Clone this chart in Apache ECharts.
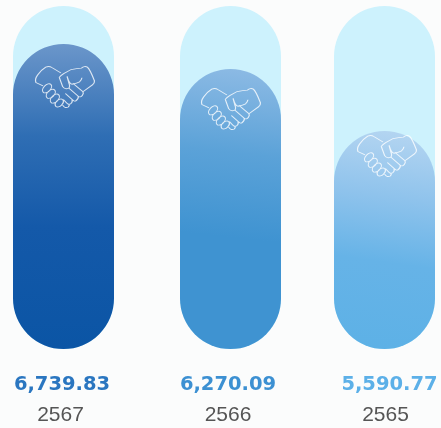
<!DOCTYPE html>
<html>
<head>
<meta charset="utf-8">
<style>html,body{margin:0;padding:0;background:#fbfcfc}#chart{width:441px;height:428px}</style>
<script src="https://cdn.jsdelivr.net/npm/echarts@6/dist/echarts.min.js"></script>
</head>
<body>
<div id="chart"></div>
<script>
// Yearly figures, newest first
const years = ['2567', '2566', '2565'];
const values = [6739.83, 6270.09, 5590.77];
const valueLabels = ['6,739.83', '6,270.09', '5,590.77'];

// Each capsule has its own scale ceiling, so the fill level is set per column
const scaleMax = [7580, 7681, 8797];
const columnLeft = [13, 180, 334];
const columnWidth = 101;
const labelColors = ['#2a76c0', '#3c90d2', '#5cb0e8'];
const fillStops = [
  ['#6b96ca', '#2f6eb4', '#1459a9', '#0b55a5'],
  ['#8cbae4', '#5ba2d8', '#3f93d1', '#3f93d1'],
  ['#b4d5f1', '#8fc3ec', '#66b3e7', '#5db1e6']
];
const iconCenter = [[65, 87], [231, 109], [387, 156]];
// Horizontal nudges of the two label lines relative to the column centre
const valueShift = [-1.5, -2.5, 5];
const yearShift = [-3, -2.5, 1];

// One knuckle: an oval tilted 45 degrees, built from four cubic arcs
function knuckle(cx, cy, a, b) {
  const s = Math.SQRT1_2, k = 0.55;
  const p = (u, v) => `${(cx + (u * a + v * b) * s).toFixed(1)},${(cy + (-u * a + v * b) * s).toFixed(1)}`;
  return `M${p(1, 0)} C${p(1, k)} ${p(k, 1)} ${p(0, 1)} C${p(-k, 1)} ${p(-1, k)} ${p(-1, 0)} ` +
         `C${p(-1, -k)} ${p(-k, -1)} ${p(0, -1)} C${p(k, -1)} ${p(1, -k)} ${p(1, 0)} Z `;
}

// Handshake outline: two hands, four knuckles and the clasped fingers
const handshake = 'path://' +
  'M77,22 L50,6 Q42,1 32,5 Q20,12 8,28 Q-1,40 3,50 L24,60 ' +
  knuckle(36, 67, 16, 10) + knuckle(47, 83, 16, 10) + knuckle(59, 97, 16, 10) + knuckle(72, 110, 14, 9) +
  'M82,116 Q88,126 98,122 Q103,119 101,112 ' +
  'M72,35 Q75,30 85,24 L107,12 Q125,9 137,8 Q147,0 155,5 Q162,10 176,45 Q177,52 170,57 L142,77 ' +
  'M72,35 L82,62 Q90,72 100,66 Q105,62 100,50 L95,32 Q102,55 110,55 Q125,52 132,48 Q138,42 139,36 ' +
  'M100,66 L128,90 Q135,95 140,88 Q145,82 142,77 L112,52 ' +
  'M128,90 Q130,97 122,103 Q117,107 110,100 L90,82 ' +
  'M110,100 Q112,108 105,113 Q100,116 94,110 L84,100';

const chart = echarts.init(document.getElementById('chart'));

chart.setOption({
  animation: false,
  backgroundColor: '#fbfcfc',
  grid: years.map((_, i) => ({
    left: columnLeft[i], width: columnWidth, top: 6, height: 343, outerBoundsMode: 'none'
  })),
  xAxis: years.map((y, i) => ({
    type: 'category',
    gridIndex: i,
    data: [y],
    axisLine: { show: false },
    axisTick: { show: false },
    axisLabel: {
      interval: 0,
      margin: 21,
      hideOverlap: false,
      formatter: () => `{v|${valueLabels[i]}}\n{y|${y}}`,
      rich: {
        v: {
          fontFamily: 'DejaVu Sans', fontWeight: 'bold', fontSize: 19.5,
          color: labelColors[i], lineHeight: 30,
          padding: valueShift[i] > 0 ? [0, 0, 0, 2 * valueShift[i]] : [0, -2 * valueShift[i], 0, 0]
        },
        y: {
          fontFamily: 'Liberation Sans', fontSize: 21, color: '#555555', lineHeight: 30,
          padding: yearShift[i] > 0 ? [0, 0, 0, 2 * yearShift[i]] : [0, -2 * yearShift[i], 0, 0]
        }
      }
    }
  })),
  yAxis: years.map((_, i) => ({
    type: 'value', gridIndex: i, min: 0, max: scaleMax[i], show: false
  })),
  series: years.map((_, i) => ({
    type: 'bar',
    xAxisIndex: i,
    yAxisIndex: i,
    barWidth: columnWidth,
    data: [values[i]],
    showBackground: true,
    backgroundStyle: { color: '#cdf2fd', borderRadius: columnWidth / 2 },
    itemStyle: {
      borderRadius: columnWidth / 2,
      color: {
        type: 'linear', x: i ? 0.65 : 0.5, y: 0, x2: i ? 0.35 : 0.5, y2: 1,
        colorStops: fillStops[i].map((c, k) => ({ offset: [0, 0.3, 0.6, 1][k], color: c }))
      }
    },
    markPoint: {
      silent: true,
      symbol: handshake,
      symbolSize: [59, 41],
      label: { show: false },
      itemStyle: { color: 'rgba(255,255,255,0)', borderColor: 'rgba(255,255,255,0.8)', borderWidth: 1 },
      data: [{ x: iconCenter[i][0], y: iconCenter[i][1] }]
    }
  }))
});
</script>
</body>
</html>
